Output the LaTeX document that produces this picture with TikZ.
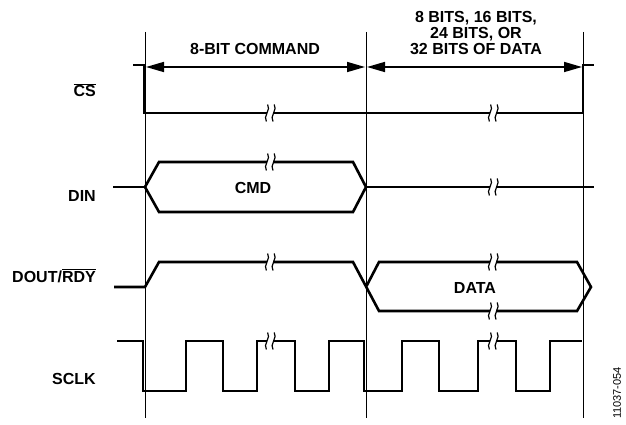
\documentclass[tikz,border=0pt]{standalone}
\usepackage{fontspec}
\setmainfont{Liberation Sans}
\usetikzlibrary{arrows.meta}
\newcommand\myovl[1]{$\overline{\mbox{#1}}$}
\begin{document}
\begin{tikzpicture}[x=1pt,y=-1pt,
  sig/.style={line width=2.6pt, line join=miter},
  guide/.style={line width=1pt},
  dimline/.style={line width=1.6pt, {Triangle[length=18pt,width=10pt]}-{Triangle[length=18pt,width=10pt]}, shorten <=1pt, shorten >=1pt},
  lbl/.style={font=\bfseries\fontsize{16}{16}\selectfont, inner sep=0pt},
  brk/.pic={
    \fill[white] (-3.4,-2.2) rectangle (3.4,2.2);
    \draw[line width=1.2pt] (-2.4,-8.5) .. controls (1.5,-4) and (-7.5,4) .. (-3.6,8.5);
    \draw[line width=1.2pt] (4.2,-8.5) .. controls (8.1,-4) and (-0.9,4) .. (3,8.5);
  }]
\useasboundingbox (0,0) rectangle (626,425);
% guide lines
\coordinate (gLt) at (145,32); \coordinate (gLb) at (145,418);
\coordinate (gMt) at (366,32); \coordinate (gMb) at (366,418);
\coordinate (gRt) at (583,32); \coordinate (gRb) at (583,418);
\draw[guide] (gLt) -- (gLb);
\draw[guide] (gMt) -- (gMb);
\draw[guide] (gRt) -- (gRb);
% dimension arrows
\coordinate (aL) at (145,67); \coordinate (aM) at (366,67); \coordinate (aR) at (583,67);
\draw[dimline] (aL) -- (aM);
\draw[dimline] (aM) -- (aR);
% headers
\node[lbl, anchor=base] (hcmd) at (255,55) {8-BIT COMMAND};
\node[lbl, anchor=base] (hd1) at (476,23) {8 BITS, 16 BITS,};
\node[lbl, anchor=base] (hd2) at (476,38.5) {24 BITS, OR};
\node[lbl, anchor=base] (hd3) at (476,55) {32 BITS OF DATA};
% CS
\draw[sig] (133,65) -- (144,65) -- (144,113) -- (583,113) -- (583,65) -- (594,65);
% DIN
\draw[sig] (113,187) -- (145,187);
\draw[sig] (145,187) -- (159,162) -- (353,162) -- (366,187) -- (353,212) -- (159,212) -- cycle;
\draw[sig] (366,187) -- (594,187);
% DOUT/RDY
\draw[sig] (114,287) -- (145,287) -- (159,262) -- (353,262) -- (379,311) -- (577,311) -- (591,287) -- (577,262) -- (379,262) -- (366,287);
% SCLK
\draw[sig] (117,341) -- (143,341) -- (143,391) -- (186,391) -- (186,341) -- (223,341) -- (223,391) -- (257,391) -- (257,341) -- (295,341) -- (295,391) -- (329,391) -- (329,341) -- (364,341) -- (364,391) -- (402,391) -- (402,341) -- (439,341) -- (439,391) -- (478,391) -- (478,341) -- (516,341) -- (516,391) -- (550,391) -- (550,341) -- (582,341);
% breaks
\foreach \p in {(270,113),(493,113),(270,162),(493,187),(270,262),(493,262),(493,311),(270,341),(493,341)}
  \pic at \p {brk};
% texts in waveforms
\node[lbl, anchor=base] (tcmd) at (253,193) {CMD};
\node[lbl, anchor=base] (tdata) at (475,293) {DATA};
% signal labels
\node[lbl, anchor=base east] (lcs) at (96,97) {\myovl{CS}};
\node[lbl, anchor=base east] (ldin) at (96,201.5) {DIN};
\node[lbl, anchor=base east] (ldout) at (96,282) {DOUT/\myovl{RDY}};
\node[lbl, anchor=base east] (lsclk) at (96,384) {SCLK};
% figure number
\node[font=\fontsize{11}{11}\selectfont, rotate=90, inner sep=0pt] (fig) at (617,393) {11037-054};
\end{tikzpicture}
\end{document}
